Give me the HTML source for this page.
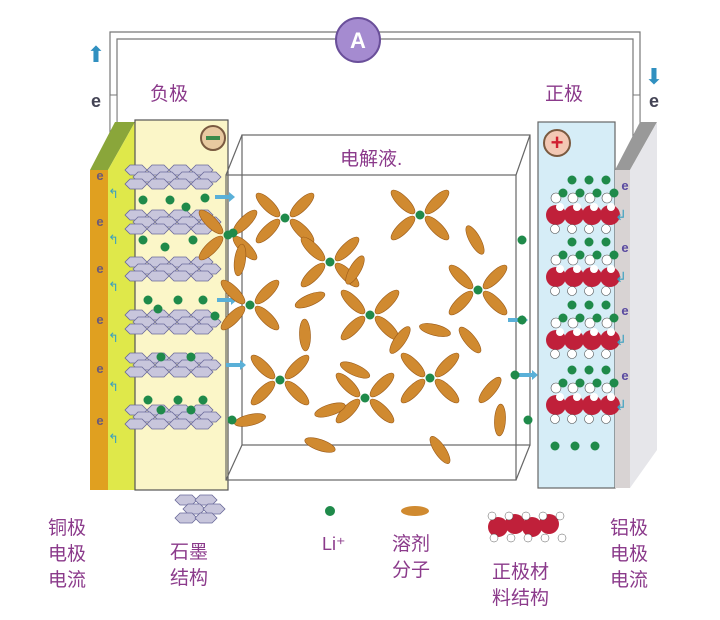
<!DOCTYPE html>
<html><head><meta charset="utf-8"><style>
body{margin:0;background:#fff;width:720px;height:620px;overflow:hidden}
svg{display:block}
.t{font-family:"Liberation Sans","Noto Sans CJK SC",sans-serif;fill:#8b3a8b;font-size:19px}
</style></head><body>
<svg id="s" width="720" height="620" viewBox="0 0 720 620">
<g fill="none" stroke="#777" stroke-width="1.2">
<path d="M110 145 V32 H640 V145"/><path d="M117 145 V39 H633 V145"/>
</g>
<rect x="110" y="95" width="7" height="45" fill="#fff" stroke="#777"/>
<rect x="633" y="95" width="7" height="45" fill="#fff" stroke="#777"/>
<circle cx="358" cy="40" r="22" fill="#a58bd0" stroke="#6a4f9a" stroke-width="2"/>
<text x="358" y="48" text-anchor="middle" font-family="Liberation Sans" font-weight="bold" font-size="22" fill="#fff">A</text>
<polygon points="90,170 115,122 135,122 108,170" fill="#8aa63a"/>
<rect x="90" y="170" width="18" height="320" fill="#e0a020"/>
<polygon points="108,170 135,122 135,490 108,490" fill="#dfe84a"/>
<rect x="135" y="120" width="93" height="370" fill="#fbf6c8" stroke="#555" stroke-width="1.2"/>
<circle cx="213" cy="138" r="12" fill="#e8c9a0" stroke="#7a5a40" stroke-width="2"/>
<rect x="206" y="136" width="14" height="4" fill="#3a8a4a"/>
<g fill="none" stroke="#666" stroke-width="1.2">
<rect x="242" y="135" width="288" height="310"/>
<rect x="226" y="175" width="290" height="305"/>
<line x1="226" y1="175" x2="242" y2="135"/><line x1="516" y1="175" x2="530" y2="135"/>
<line x1="226" y1="480" x2="242" y2="445"/><line x1="516" y1="480" x2="530" y2="445"/>
</g>
<rect x="538" y="122" width="77" height="366" fill="#d6edf7" stroke="#666" stroke-width="1.2"/>
<polygon points="615,170 640,122 657,122 630,170" fill="#999"/>
<polygon points="615,170 630,170 630,488 615,488" fill="#d8d3d3"/>
<polygon points="630,170 657,122 657,450 630,488" fill="#e6e6ea"/>
<circle cx="557" cy="143" r="13" fill="#f3c8b4" stroke="#7a5a40" stroke-width="2"/>
<text x="557" y="150" text-anchor="middle" font-size="22" font-weight="bold" fill="#d02030" font-family="Liberation Sans">+</text>
<g id="dyn"></g>
<text class="t" x="150" y="100">负极</text>
<text class="t" x="545" y="100">正极</text>
<text class="t" x="340" y="165" font-size="14" fill="#6a2a6a">电解液.</text>
<text x="96" y="62" font-size="22" fill="#3090c0" text-anchor="middle">⬆</text>
<text x="96" y="107" font-family="Liberation Sans" font-weight="bold" font-size="18" fill="#445" text-anchor="middle">e</text>
<text x="654" y="84" font-size="22" fill="#3090c0" text-anchor="middle">⬇</text>
<text x="654" y="107" font-family="Liberation Sans" font-weight="bold" font-size="18" fill="#445" text-anchor="middle">e</text>
<text class="t" x="48" y="534">铜极</text><text class="t" x="48" y="560">电极</text><text class="t" x="48" y="586">电流</text>
<text class="t" x="170" y="558">石墨</text><text class="t" x="170" y="584">结构</text>
<text x="322" y="550" font-family="Liberation Sans" font-size="18" fill="#8b3a8b">Li⁺</text>
<circle cx="330" cy="511" r="5" fill="#1f8a4a"/>
<ellipse cx="415" cy="511" rx="14" ry="5" fill="#d08a30"/>
<text class="t" x="392" y="550">溶剂</text><text class="t" x="392" y="576">分子</text>
<text class="t" x="492" y="578">正极材</text><text class="t" x="492" y="604">料结构</text>
<text class="t" x="610" y="534">铝极</text><text class="t" x="610" y="560">电极</text><text class="t" x="610" y="586">电流</text>
</svg>
<script>
var g=document.getElementById('dyn'),h='';
function dot(x,y,r){h+='<circle cx="'+x+'" cy="'+y+'" r="'+(r||4.5)+'" fill="#1f8a4a"/>';}
function el(x,y,a){h+='<ellipse cx="'+x+'" cy="'+y+'" rx="16" ry="5.5" fill="#d08a30" stroke="#9a5a18" stroke-width="0.6" transform="rotate('+a+' '+x+' '+y+')"/>';}
function hex(cx,cy){h+='<polygon points="'+(cx-11)+','+cy+' '+(cx-6)+','+(cy-5)+' '+(cx+6)+','+(cy-5)+' '+(cx+11)+','+cy+' '+(cx+6)+','+(cy+5)+' '+(cx-6)+','+(cy+5)+'" fill="#c8c6dc" stroke="#6a6a9a" stroke-width="0.8"/>';}
function hexrow(x,y){for(var l=0;l<3;l++)for(var i=0;i<4;i++)hex(x+i*22+(l%2)*8,y+l*7);}
[170,215,262,315,358,410].forEach(function(y){hexrow(136,y);});
hex(186,500);hex(206,500);hex(194,509);hex(214,509);hex(186,518);hex(206,518);
var ld=[[140,200],[167,200],[202,198],[183,207],[140,240],[162,247],[190,240],[145,300],[175,300],[200,300],[155,309],[212,316],[158,357],[188,357],[145,400],[175,400],[200,400],[158,410],[188,410]];
ld.forEach(function(p){dot(p[0]+3,p[1]);});
[192,238,285,336,385,437].forEach(function(y){h+='<text x="100" y="'+(y-12)+'" font-family="Liberation Sans" font-weight="bold" font-size="13" fill="#6a5a7a" text-anchor="middle">e</text><text x="108" y="'+(y+6)+'" font-size="13" fill="#3aa0c0">↰</text>';});
[[215,197],[217,300],[226,365],[508,320],[518,375]].forEach(function(p){h+='<rect x="'+p[0]+'" y="'+(p[1]-2)+'" width="14" height="4" fill="#5ab0d8"/><polygon points="'+(p[0]+14)+','+(p[1]-5)+' '+(p[0]+20)+','+p[1]+' '+(p[0]+14)+','+(p[1]+5)+'" fill="#5ab0d8"/>';});
var cl=[[285,218],[420,215],[330,262],[250,305],[370,315],[478,290],[280,380],[430,378],[365,398],[228,235]];
cl.forEach(function(c){var x=c[0],y=c[1];el(x-17,y-13,45);el(x+17,y-13,-45);el(x-17,y+13,-45);el(x+17,y+13,45);dot(x,y);});
[[355,270],[310,300],[435,330],[470,340],[305,335],[400,340],[330,410],[320,445],[440,450],[500,420],[490,390],[250,420],[355,370],[475,240],[240,260]].forEach(function(p,i){el(p[0],p[1],(i*37)%180-60);});
[[233,233],[522,240],[522,320],[515,375],[528,420],[232,420]].forEach(function(p){dot(p[0],p[1]);});
[215,277,340,405].forEach(function(y){
for(var i=0;i<3;i++)dot(572+i*17,y-35);
for(var i=0;i<4;i++){h+='<circle cx="'+(556+i*17)+'" cy="'+(y-17)+'" r="5" fill="#fff" stroke="#555" stroke-width="0.6"/>';dot(563+i*17,y-22);}
for(var i=0;i<4;i++){h+='<circle cx="'+(556+i*18)+'" cy="'+y+'" r="10" fill="#c0203a"/>';}
for(var i=0;i<4;i++){h+='<circle cx="'+(560+i*17)+'" cy="'+(y-8)+'" r="4" fill="#fff"/><circle cx="'+(555+i*17)+'" cy="'+(y+14)+'" r="4.5" fill="#fff" stroke="#555" stroke-width="0.6"/>';}
h+='<text x="625" y="'+(y-25)+'" font-family="Liberation Sans" font-weight="bold" font-size="13" fill="#5a4aa0" text-anchor="middle">e</text><text x="615" y="'+(y+5)+'" font-size="14" fill="#3aa0c0">↲</text>';
});
[555,575,595].forEach(function(x){dot(x,446);});
for(var i=0;i<4;i++){h+='<circle cx="'+(498+i*17)+'" cy="'+(527-(i%2)*3)+'" r="10" fill="#c0203a"/>';}
for(var i=0;i<5;i++){h+='<circle cx="'+(492+i*17)+'" cy="516" r="4" fill="#fff" stroke="#555" stroke-width="0.5"/><circle cx="'+(494+i*17)+'" cy="538" r="4" fill="#fff" stroke="#555" stroke-width="0.5"/>';}
g.innerHTML=h;
</script>
</body></html>
